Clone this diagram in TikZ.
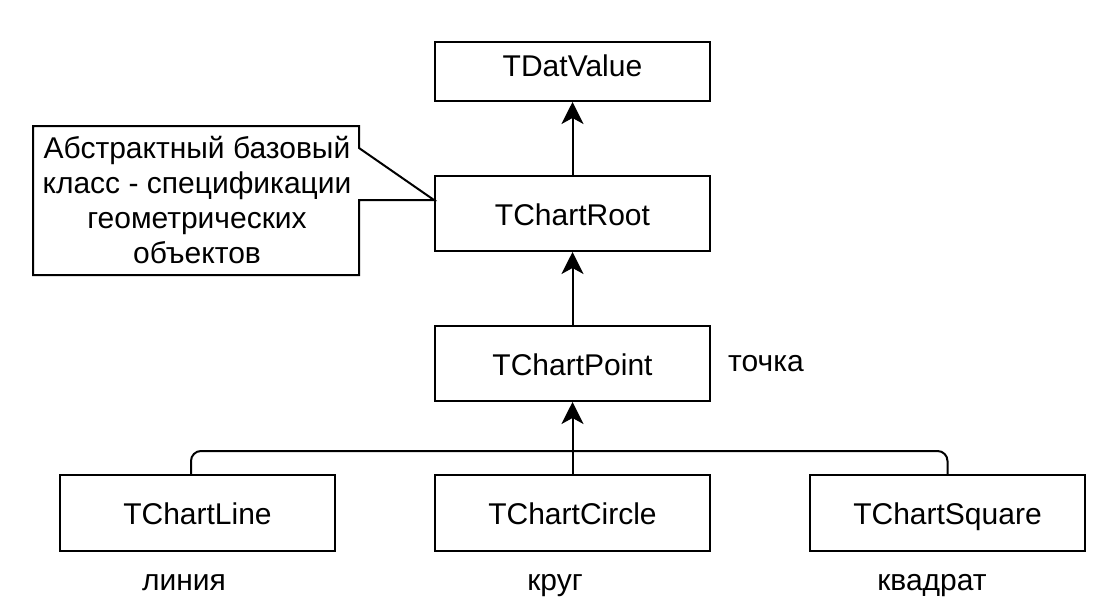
\documentclass[tikz,border=0pt]{standalone}
\usepackage{fontspec}
\setmainfont{Liberation Sans}
\usetikzlibrary{arrows.meta}
\begin{document}
\begin{tikzpicture}[x=1pt,y=-1pt,
 txt/.style={font=\fontsize{30}{35}\selectfont},
 box/.style={draw, line width=2pt, minimum width=275pt, minimum height=75pt, inner sep=0pt, text height=27pt, text depth=4pt, txt},
 lbl/.style={txt, inner sep=0pt, anchor=base},
 edge/.style={line width=2pt},
 conn/.style={edge, -{Stealth[length=22pt,width=22pt,inset=6pt]}}
]
\useasboundingbox (0,0) rectangle (1111,613);

\node[box, minimum height=59pt, text height=18pt, text depth=9pt] (TDatValue) at (572.5,71.5) {TDatValue};
\node[box] (TChartRoot) at (572.5,213.5) {TChartRoot};
\node[box] (TChartPoint) at (572.5,363.5) {TChartPoint};
\node[box, minimum height=76pt] (TChartLine) at (197.5,513) {TChartLine};
\node[box, minimum height=76pt] (TChartCircle) at (572.5,513) {TChartCircle};
\node[box, minimum height=76pt] (TChartSquare) at (947.5,513) {TChartSquare};

\node[lbl] (tochka) at (766,371) {точка};
\node[lbl] (liniya) at (184,590) {линия};
\node[lbl] (krug) at (555,590) {круг};
\node[lbl] (kvadrat) at (932,590) {квадрат};

\node[txt, align=center, inner sep=0pt] (note) at (197,200.5) {Абстрактный базовый\\класс - спецификации\\геометрических\\объектов};
\coordinate (tip) at ([yshift=13.5pt]TChartRoot.west);
\draw[edge, line join=miter] (33,126) -- (359,126) -- (359,148) -- (tip) -- (359,200) -- (359,275) -- (33,275) -- cycle;

\draw[conn] (TChartRoot.north) -- (TDatValue.south);
\draw[conn] (TChartPoint.north) -- (TChartRoot.south);
\draw[conn] (TChartCircle.north) -- (TChartPoint.south);
\coordinate (hub) at (572.5,451);
\draw[edge, rounded corners=10pt] ([xshift=-6.5pt]TChartLine.north) -- ([xshift=-6.5pt]TChartLine.north |- hub) -- (TChartSquare.north |- hub) -- (TChartSquare.north);
\end{tikzpicture}
\end{document}
